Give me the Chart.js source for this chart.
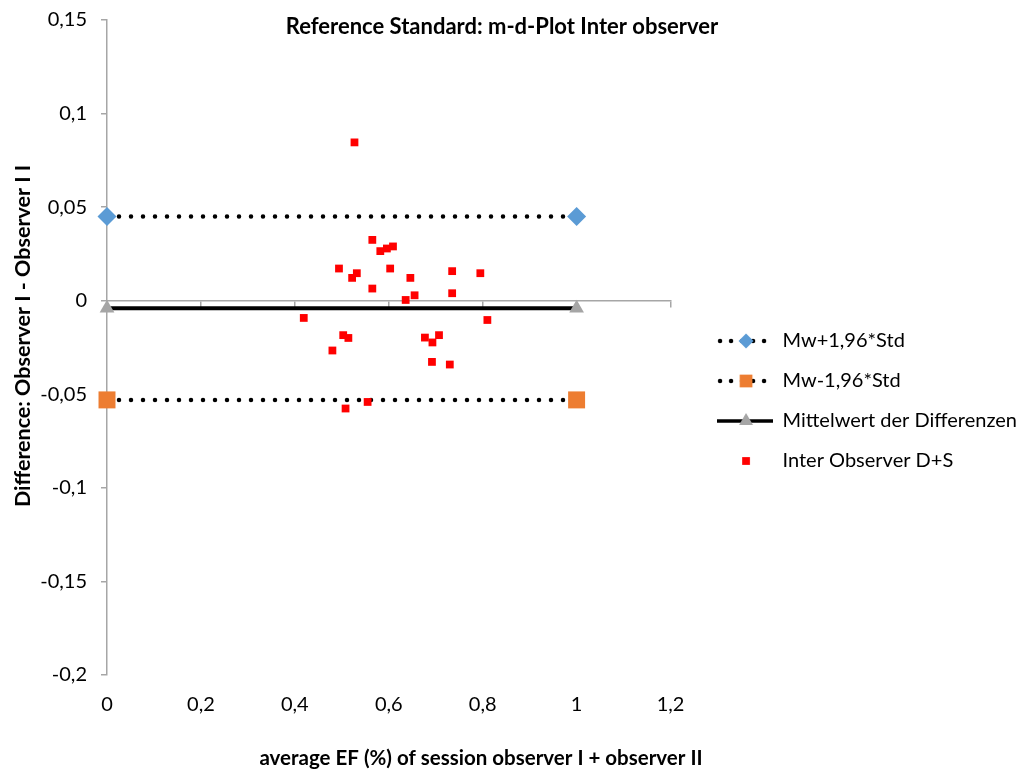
<!DOCTYPE html>
<html>
<head>
<meta charset="utf-8">
<script src="https://cdn.jsdelivr.net/npm/chart.js@4/dist/chart.umd.min.js"></script>
<style>
  body { margin: 0; background: #fff; }
</style>
</head>
<body>
<canvas id="mdplot" width="1027" height="769"></canvas>
<script>
// Bland-Altman style plot: mean EF vs. difference between observers
const avgEF = [0.527, 0.565, 0.582, 0.596, 0.609, 0.494, 0.522, 0.532, 0.603, 0.646, 0.735, 0.795, 0.565, 0.655,
               0.636, 0.735, 0.419, 0.810, 0.503, 0.514, 0.480, 0.677, 0.693, 0.707, 0.692, 0.730, 0.508, 0.555];
const diffEF = [0.0846, 0.0325, 0.0265, 0.0279, 0.029, 0.0172, 0.0122, 0.0147, 0.0172, 0.0122, 0.0158, 0.0147, 0.0065, 0.0029,
                0.0004, 0.004, -0.0092, -0.0103, -0.0184, -0.0199, -0.0266, -0.0197, -0.0223, -0.0184, -0.0327, -0.0341, -0.0576, -0.0541];
const limitX = [0, 1];
const upperLimit = [0.045, 0.045];
const lowerLimit = [-0.053, -0.053];
const meanDiff = [-0.004, -0.004];
const seriesNames = ['Mw+1,96*Std', 'Mw-1,96*Std', 'Mittelwert der Differenzen', 'Inter Observer D+S'];
const xTicks = [0, 0.2, 0.4, 0.6, 0.8, 1, 1.2];
const yTicks = [-0.2, -0.15, -0.1, -0.05, 0, 0.05, 0.1, 0.15];

const chartTitle = 'Reference Standard: m-d-Plot Inter observer';
const xTitle = 'average EF (%) of session observer I + observer II';
const yTitle = 'Difference: Observer I - Observer I I';

const FONT = 'Lato';
const axisGrey = '#a6a6a6';

const toPts = (xs, ys) => xs.map((x, i) => ({ x: x, y: ys[i] }));
const fmt = v => String(Math.round(v * 100) / 100).replace('.', ',');

// small legend icons: dotted / solid line with the marker in the middle
function legendIcon(kind, style, radius, color) {
  const c = document.createElement('canvas');
  c.width = 56; c.height = 24;
  const g = c.getContext('2d');
  if (kind !== 'none') {
    g.strokeStyle = '#000';
    g.lineCap = kind === 'dots' ? 'round' : 'butt';
    g.lineWidth = kind === 'dots' ? 4.5 : 3.5;
    g.setLineDash(kind === 'dots' ? [0, 11] : []);
    g.beginPath();
    g.moveTo(kind === 'dots' ? 3 : 0, 12);
    g.lineTo(56, 12);
    g.stroke();
    g.setLineDash([]);
  }
  g.fillStyle = color;
  Chart.helpers.drawPoint(g, { pointStyle: style, radius: radius, rotation: 0, borderWidth: 0 }, 29, 12);
  return c;
}

const icons = [
  legendIcon('dots', 'rectRot', 7.5, '#5b9bd5'),
  legendIcon('dots', 'rect', 9, '#ed7d31'),
  legendIcon('line', 'triangle', 8, '#a5a5a5'),
  legendIcon('none', 'rect', 5.5, '#ff0000')
];

const titlesPlugin = {
  id: 'titles',
  afterDraw(chart) {
    const ctx = chart.ctx;
    ctx.save();
    ctx.fillStyle = '#000';
    ctx.textAlign = 'center';
    ctx.textBaseline = 'middle';
    ctx.font = 'bold 22px ' + FONT;
    ctx.fillText(chartTitle, 502, 27);
    ctx.font = 'bold 20.5px ' + FONT;
    ctx.fillText(xTitle, 481, 758);
    ctx.font = 'bold 21.5px ' + FONT;
    ctx.translate(23, 336);
    ctx.rotate(-Math.PI / 2);
    ctx.fillText(yTitle, 0, 0);
    ctx.restore();
  }
};

const ctx = document.getElementById('mdplot').getContext('2d');
const mdplot = new Chart(ctx, {
  type: 'scatter',
  data: {
    datasets: [{
      label: seriesNames[0],
      data: toPts(limitX, upperLimit),
      showLine: true,
      borderColor: '#000',
      borderWidth: 4.5,
      borderDash: [0, 12],
      borderCapStyle: 'round',
      pointStyle: 'rectRot',
      pointRadius: 9.5,
      pointHoverRadius: 9.5,
      pointBackgroundColor: '#5b9bd5',
      pointBorderWidth: 0,
      clip: false,
      order: 1
    }, {
      label: seriesNames[1],
      data: toPts(limitX, lowerLimit),
      showLine: true,
      borderColor: '#000',
      borderWidth: 4.5,
      borderDash: [0, 12],
      borderCapStyle: 'round',
      pointStyle: 'rect',
      pointRadius: 12,
      pointHoverRadius: 12,
      pointBackgroundColor: '#ed7d31',
      pointBorderWidth: 0,
      clip: false,
      order: 1
    }, {
      label: seriesNames[2],
      data: toPts(limitX, meanDiff),
      showLine: true,
      borderColor: '#000',
      borderWidth: 4,
      pointStyle: 'triangle',
      pointRadius: 8.5,
      pointHoverRadius: 8.5,
      pointBackgroundColor: '#a5a5a5',
      pointBorderWidth: 0,
      clip: false,
      order: 1
    }, {
      label: seriesNames[3],
      data: toPts(avgEF, diffEF),
      pointStyle: 'rect',
      pointRadius: 5.5,
      pointHoverRadius: 5.5,
      backgroundColor: '#ff0000',
      borderWidth: 0,
      clip: false,
      order: 0
    }]
  },
  options: {
    responsive: false,
    animation: false,
    devicePixelRatio: 1,
    layout: { padding: { top: 20, right: 0, bottom: 0, left: 0 } },
    scales: {
      x: {
        type: 'linear',
        position: 'bottom',
        min: 0, max: 1.2,
        afterBuildTicks: s => { s.ticks = xTicks.map(v => ({ value: v })); },
        afterFit: s => { s.height = 94; },
        grid: { display: false, drawTicks: false },
        border: { display: false },
        ticks: {
          padding: 18,
          color: '#000',
          font: { family: FONT, size: 20 },
          callback: v => fmt(v)
        }
      },
      x0: {
        type: 'linear',
        position: { y: 0 },
        min: 0, max: 1.2,
        afterBuildTicks: s => { s.ticks = xTicks.map(v => ({ value: v })); },
        ticks: { display: false },
        grid: { drawOnChartArea: false, drawTicks: true, tickLength: 6, color: axisGrey, lineWidth: 1.5 },
        border: { color: axisGrey, width: 1.5 }
      },
      y: {
        type: 'linear',
        min: -0.2, max: 0.15,
        afterBuildTicks: s => { s.ticks = yTicks.map(v => ({ value: v })); },
        afterFit: s => { s.width = 107; s.paddingTop = 12; s.paddingBottom = 12; },
        grid: { drawOnChartArea: false, drawTicks: true, tickLength: 6, color: axisGrey, lineWidth: 1.5 },
        border: { color: axisGrey, width: 1.5 },
        ticks: {
          padding: 14,
          color: '#000',
          font: { family: FONT, size: 20 },
          callback: v => fmt(v)
        }
      },
      gap: {
        type: 'linear',
        position: 'right',
        display: true,
        ticks: { display: false },
        grid: { display: false },
        border: { display: false },
        afterFit: s => { s.width = 27; }
      }
    },
    plugins: {
      title: { display: false },
      tooltip: { enabled: false },
      legend: {
        position: 'right',
        align: 'start',
        maxWidth: 400,
        title: { display: true, text: '', padding: { top: 290, bottom: 0 }, font: { size: 1, lineHeight: 1 } },
        labels: {
          usePointStyle: true,
          pointStyleWidth: 55,
          padding: 20,
          color: '#000',
          font: { family: FONT, size: 20 },
          generateLabels: chart => chart.data.datasets.map((ds, i) => ({
            text: ds.label,
            pointStyle: icons[i],
            fillStyle: '#000',
            strokeStyle: '#000',
            lineWidth: 0,
            hidden: false,
            fontColor: '#000',
            datasetIndex: i
          }))
        }
      }
    }
  },
  plugins: [titlesPlugin]
});
</script>
</body>
</html>
